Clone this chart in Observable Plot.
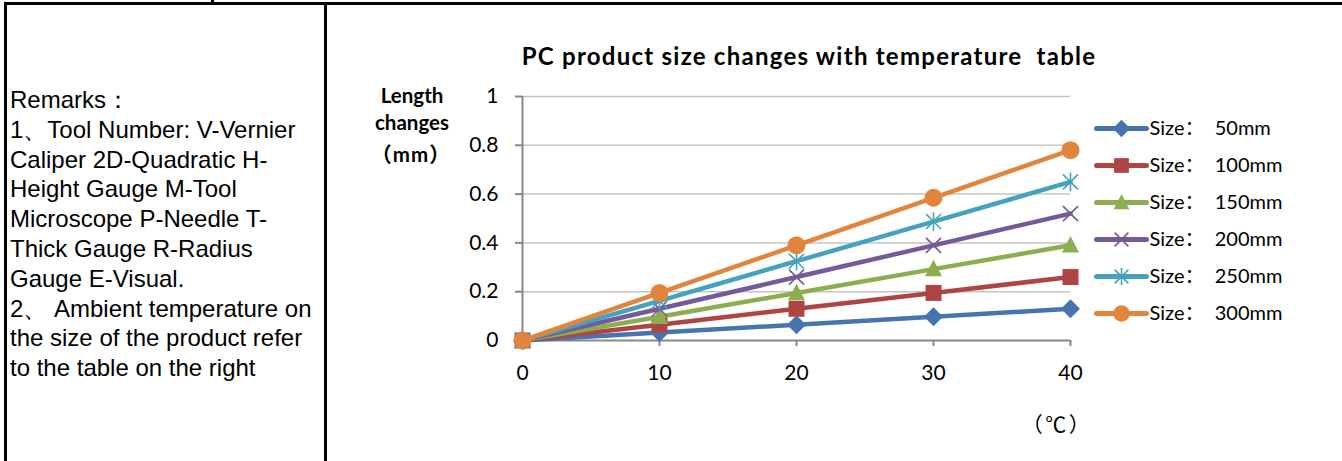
<!DOCTYPE html>
<html>
<head>
<meta charset="utf-8">
<script src="https://cdn.jsdelivr.net/npm/d3@7"></script>
<script src="https://cdn.jsdelivr.net/npm/@observablehq/plot@0.6"></script>
<style>
  html, body { margin: 0; padding: 0; background: #fff; }
  #root { position: relative; width: 1342px; height: 461px; overflow: hidden; background: #fff; }
  .bar { position: absolute; background: #000; }
  #remarks { position: absolute; left: 10px; top: 85px; font-family: "Liberation Sans", Arial, sans-serif;
    font-size: 24px; line-height: 29.8px; color: #000; white-space: nowrap; }
  .ctext { position: absolute; transform: translate(-50%, -50%); white-space: pre; color: #000; }
  #title { left: 809px; top: 55px; font-family: Lato, "Noto Sans CJK SC", sans-serif; font-weight: bold; font-size: 24px; letter-spacing: 1.25px; }
  .ytitle { font-family: Lato, "Noto Sans CJK SC", sans-serif; font-weight: bold; font-size: 20.5px; }
  #xlabel { left: 1057px; top: 423px; font-family: "Noto Sans CJK SC", sans-serif; font-size: 21px; letter-spacing: 2.5px; }
  #chart, #legend { position: absolute; }
  #chart { left: 0; top: 0; }
  #legend { left: 1090px; top: 110px; }
  #legend text { white-space: pre; }
</style>
</head>
<body>
<div id="root">
  <div class="bar" style="left:4px;top:2px;width:1338px;height:3px"></div>
  <div class="bar" style="left:211px;top:0px;width:2.5px;height:3px"></div>
  <div class="bar" style="left:4px;top:2px;width:3px;height:459px"></div>
  <div class="bar" style="left:324px;top:2px;width:3px;height:459px"></div>
  <div id="remarks"></div>
  <div id="title" class="ctext"></div>
  <div id="yt1" class="ctext ytitle" style="left:412px;top:95px"></div>
  <div id="yt2" class="ctext ytitle" style="left:412px;top:122px"></div>
  <div id="yt3" class="ctext ytitle" style="left:411px;top:153px;letter-spacing:1px"></div>
  <div id="xlabel" class="ctext"></div>
  <div id="chart"></div>
  <div id="legend"></div>
</div>
<script>
// ---------- data ----------
const temperatures = [0, 10, 20, 30, 40];
const seriesNames = ["Size：  50mm", "Size：  100mm", "Size：  150mm", "Size：  200mm", "Size：  250mm", "Size：  300mm"];
const size50  = [0, 0.0325, 0.065, 0.0975, 0.13];
const size100 = [0, 0.065, 0.13, 0.195, 0.26];
const size150 = [0, 0.0975, 0.195, 0.2925, 0.39];
const size200 = [0, 0.13, 0.26, 0.39, 0.52];
const size250 = [0, 0.1625, 0.325, 0.4875, 0.65];
const size300 = [0, 0.195, 0.39, 0.585, 0.78];
const yTicks = [0, 0.2, 0.4, 0.6, 0.8, 1];
const xTicks = [0, 10, 20, 30, 40];
const titleText = "PC product size changes with temperature  table";
const yTitleLines = ["Length", "changes", "（mm）"];
const xTitleText = "（℃）";
const remarkLines = [
  "Remarks：",
  "1、Tool Number: V-Vernier",
  "Caliper 2D-Quadratic H-",
  "Height Gauge M-Tool",
  "Microscope P-Needle T-",
  "Thick Gauge R-Radius",
  "Gauge E-Visual.",
  "2、 Ambient temperature on",
  "the size of the product refer",
  "to the table on the right"
];

// ---------- styles ----------
const seriesValues = [size50, size100, size150, size200, size250, size300];
const colors = ["#4674B1", "#AE4542", "#8CAE4E", "#735A9A", "#45A2BE", "#E2853C"];

const poly = (pts) => ({
  draw(ctx, size) {
    const h = Math.sqrt(size / Math.PI);
    ctx.moveTo(pts[0][0] * h, pts[0][1] * h);
    for (let k = 1; k < pts.length; k++) ctx.lineTo(pts[k][0] * h, pts[k][1] * h);
    ctx.closePath();
  }
});
const diamondSym = poly([[0, -1], [1, 0], [0, 1], [-1, 0]]);
const squareSym = poly([[-1, -1], [1, -1], [1, 1], [-1, 1]]);
const triangleSym = poly([[0, -1.1], [1, 0.85], [-1, 0.85]]);
const timesSym = { draw(ctx, size) { const h = Math.sqrt(size / Math.PI);
  ctx.moveTo(-h, -h); ctx.lineTo(h, h); ctx.moveTo(h, -h); ctx.lineTo(-h, h); } };
const asteriskSym = { draw(ctx, size) { const h = Math.sqrt(size / Math.PI);
  ctx.moveTo(-h, -h); ctx.lineTo(h, h); ctx.moveTo(h, -h); ctx.lineTo(-h, h);
  ctx.moveTo(0, -h * 1.25); ctx.lineTo(0, h * 1.25); } };
const markerSpecs = [
  { symbol: diamondSym, r: 9.5, filled: true },
  { symbol: squareSym, r: 8, filled: true },
  { symbol: triangleSym, r: 8.5, filled: true },
  { symbol: timesSym, r: 7.5, filled: false },
  { symbol: asteriskSym, r: 7.5, filled: false },
  { symbol: "circle", r: 9, filled: true }
];

// ---------- text ----------
document.getElementById("remarks").innerHTML = remarkLines.map(l => `<div>${l}</div>`).join("");
document.getElementById("title").textContent = titleText;
["yt1", "yt2", "yt3"].forEach((id, i) => document.getElementById(id).textContent = yTitleLines[i]);
document.getElementById("xlabel").textContent = xTitleText;

// ---------- chart ----------
const seriesMarks = [];
seriesNames.forEach((name, i) => {
  const rows = temperatures.map((t, j) => ({ t, v: seriesValues[i][j], s: name }));
  seriesMarks.push(Plot.line(rows, { x: "t", y: "v", stroke: colors[i], strokeWidth: 4.5, strokeLinejoin: "round", strokeLinecap: "round" }));
  const m = markerSpecs[i];
  seriesMarks.push(Plot.dot(rows, {
    x: "t", y: "v", symbol: m.symbol, r: m.r,
    fill: m.filled ? colors[i] : "none",
    stroke: m.filled ? "none" : colors[i],
    strokeWidth: m.filled ? 0 : 1.6
  }));
});

const chart = Plot.plot({
  width: 1342, height: 461,
  marginLeft: 522, marginRight: 272, marginTop: 96, marginBottom: 121,
  x: { domain: [0, 40] },
  y: { domain: [0, 1] },
  style: { fontFamily: "Lato, sans-serif", fontSize: "21px", color: "#000", background: "transparent", overflow: "visible" },
  marks: [
    Plot.ruleY(yTicks.slice(1), { x1: 0, x2: 40, stroke: "#c4c4c4", strokeWidth: 1.5 }),
    Plot.axisY({ ticks: yTicks, tickSize: 7, tickPadding: 17, tickFormat: d => String(d), stroke: "#878787", strokeWidth: 2, label: null, fill: "#000", fontSize: 21 }),
    Plot.axisX({ ticks: xTicks, tickSize: 6, tickPadding: 19, tickFormat: d => String(d), stroke: "#878787", strokeWidth: 2, label: null, fill: "#000", fontSize: 21 }),
    Plot.ruleX([0], { y1: 0, y2: 1, stroke: "#878787", strokeWidth: 2 }),
    Plot.ruleY([0], { x1: 0, x2: 40, stroke: "#878787", strokeWidth: 2 }),
    ...seriesMarks
  ]
});
document.getElementById("chart").appendChild(chart);

// ---------- legend ----------
const legendMarks = [];
seriesNames.forEach((name, i) => {
  const seg = [{ p: 0, s: name }, { p: 1, s: name }];
  legendMarks.push(Plot.line(seg, { x: "p", y: "s", stroke: colors[i], strokeWidth: 5, strokeLinecap: "round" }));
  const m = markerSpecs[i];
  legendMarks.push(Plot.dot([{ p: 0.5, s: name }], {
    x: "p", y: "s", symbol: m.symbol, r: m.r * 0.92,
    fill: m.filled ? colors[i] : "none",
    stroke: m.filled ? "none" : colors[i],
    strokeWidth: m.filled ? 0 : 1.6
  }));
  legendMarks.push(Plot.text([{ p: 1, s: name }], { x: "p", y: "s", text: "s", textAnchor: "start", dx: 3, fill: "#000", fontSize: 20 }));
});
const legend = Plot.plot({
  width: 252, height: 230,
  margin: 0,
  x: { domain: [0, 1], range: [6, 56], axis: null },
  y: { type: "point", domain: seriesNames, range: [17, 203], padding: 0, axis: null },
  style: { fontFamily: "Lato, 'Noto Sans CJK SC', sans-serif", fontSize: "20px", background: "transparent", overflow: "visible" },
  marks: legendMarks
});
document.getElementById("legend").appendChild(legend);
</script>
</body>
</html>
